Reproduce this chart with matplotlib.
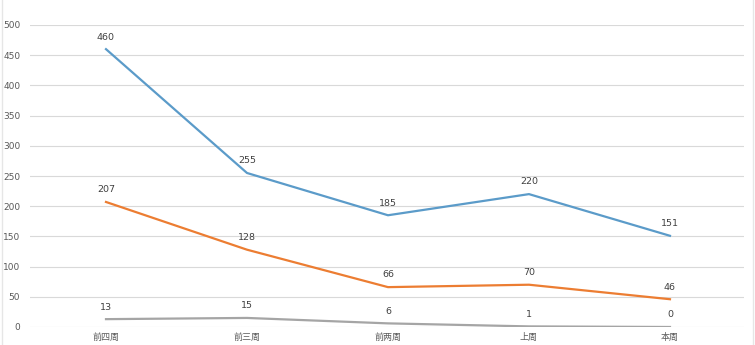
import matplotlib
matplotlib.use("Agg")
import matplotlib.pyplot as plt
from matplotlib.lines import Line2D

plt.rcParams['font.family'] = ['Noto Sans CJK SC', 'DejaVu Sans']

weeks = ["前四周", "前三周", "前两周", "上周", "本周"]
series_blue = [460, 255, 185, 220, 151]
series_orange = [207, 128, 66, 70, 46]
series_gray = [13, 15, 6, 1, 0]
y_ticks = [0, 50, 100, 150, 200, 250, 300, 350, 400, 450, 500]

fig = plt.figure(figsize=(7.55, 3.45), dpi=100)
ax = fig.add_axes([30 / 755, 18 / 345, 714 / 755, 302 / 345])

# faint chart-frame edges on the left and right
for xf in (1.5 / 755, 752.5 / 755):
    fig.add_artist(Line2D([xf, xf], [0, 1], transform=fig.transFigure,
                          color="#e6e6e6", linewidth=1.0))

x = list(range(len(weeks)))
for vals, color in [(series_blue, "#5b9bc9"),
                    (series_orange, "#ec7d32"),
                    (series_gray, "#a5a5a5")]:
    ax.plot(x, vals, color=color, linewidth=1.6, solid_joinstyle="round", zorder=3)
    for xi, v in zip(x, vals):
        ax.annotate(str(v), (xi, v), xytext=(0, 5.5), textcoords="offset points",
                    ha="center", va="bottom", fontsize=6.8, color="#404040",
                    family=["DejaVu Sans"])

ax.set_xlim(-0.539, 4.525)
ax.set_ylim(0, 500)
ax.set_yticks(y_ticks)
ax.set_yticklabels([str(t) for t in y_ticks], fontsize=6.5, color="#595959",
                   family=["DejaVu Sans"])
ax.set_xticks(x)
ax.set_xticklabels(weeks, fontsize=6.5, color="#595959")
ax.tick_params(axis="both", length=0)
ax.tick_params(axis="y", pad=7)
ax.tick_params(axis="x", pad=4)
ax.grid(axis="y", color="#d9d9d9", linewidth=0.8, zorder=0)
ax.set_axisbelow(True)
for s in ax.spines.values():
    s.set_visible(False)

fig.savefig("out.png", dpi=100)
